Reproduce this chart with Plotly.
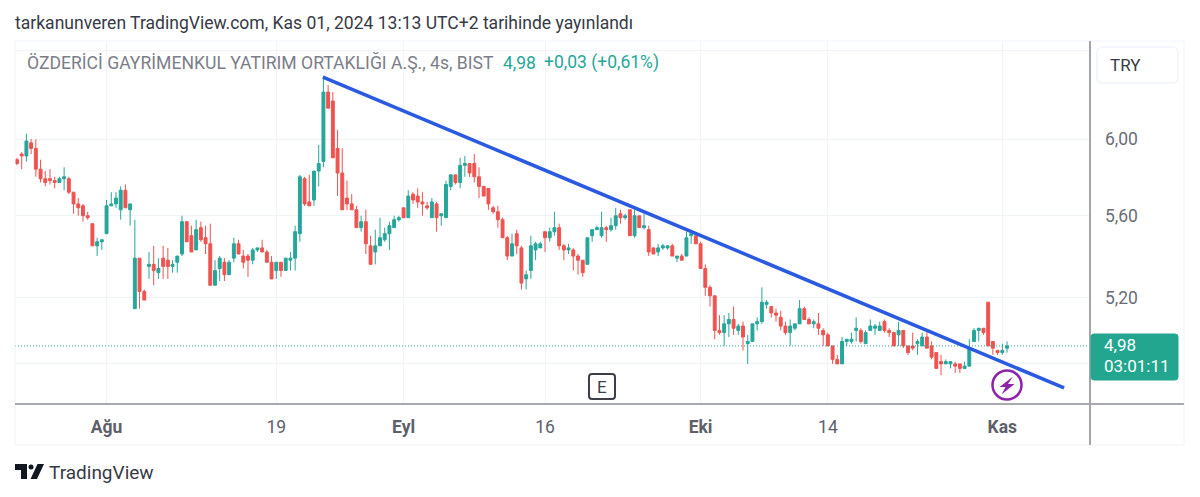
import math

import plotly.graph_objects as go


WIDTH = 1200
HEIGHT = 497
# plot area in page pixels
LEFT, RIGHT, TOP, BOTTOM = 15, 1090, 41, 404

UP_COLOR = "#26a69a"
DOWN_COLOR = "#ef5350"
GRID_COLOR = "#f0f3fa"
AXIS_COLOR = "#8a8c93"
TEXT_COLOR = "#6a6d78"

OPEN = [
    5.89, 5.92, 5.91, 5.98, 5.95, 5.84, 5.79, 5.79, 5.78, 5.77,
    5.79, 5.79, 5.72, 5.66, 5.65, 5.60, 5.56, 5.45, 5.47, 5.51,
    5.65, 5.66, 5.63, 5.73, 5.63, 5.15, 5.39, 5.23, 5.35, 5.36,
    5.32, 5.39, 5.38, 5.35, 5.37, 5.41, 5.57, 5.50, 5.43, 5.54,
    5.49, 5.46, 5.26, 5.34, 5.37, 5.31, 5.39, 5.46, 5.40, 5.40,
    5.38, 5.43, 5.44, 5.42, 5.37, 5.33, 5.37, 5.33, 5.38, 5.39,
    5.51, 5.79, 5.67, 5.68, 5.83, 5.88, 6.26, 6.21, 5.95, 5.82,
    5.69, 5.66, 5.63, 5.54, 5.57, 5.45, 5.42, 5.45, 5.48, 5.51,
    5.54, 5.58, 5.64, 5.59, 5.71, 5.70, 5.67, 5.65, 5.59, 5.66,
    5.60, 5.59, 5.75, 5.81, 5.77, 5.86, 5.87, 5.87, 5.80, 5.75,
    5.74, 5.64, 5.62, 5.58, 5.49, 5.40, 5.51, 5.44, 5.29, 5.33,
    5.43, 5.44, 5.52, 5.49, 5.52, 5.54, 5.45, 5.43, 5.43, 5.40,
    5.38, 5.36, 5.50, 5.53, 5.50, 5.54, 5.53, 5.55, 5.61, 5.59,
    5.63, 5.50, 5.60, 5.54, 5.53, 5.44, 5.42, 5.44, 5.44, 5.45,
    5.39, 5.40, 5.40, 5.50, 5.50, 5.46, 5.34, 5.25, 5.21, 5.05,
    5.04, 5.08, 5.10, 5.05, 5.07, 4.99, 5.00, 5.08, 5.09, 5.17,
    5.16, 5.13, 5.11, 5.07, 5.04, 5.06, 5.08, 5.15, 5.10, 5.08,
    5.08, 5.05, 5.03, 4.98, 4.92, 4.90, 5.00, 5.00, 5.05, 5.05,
    4.99, 5.05, 5.06, 5.05, 5.09, 5.05, 5.04, 5.03, 5.05, 4.98,
    4.98, 4.99, 4.98, 5.02, 4.98, 4.95, 4.91, 4.90, 4.90, 4.90,
    4.90, 4.88, 4.89, 5.00, 5.05, 5.06, 5.18, 5.00, 4.96, 4.95,
    4.97,
]
HIGH = [
    5.90, 5.93, 6.03, 6.00, 6.00, 5.89, 5.83, 5.84, 5.80, 5.80,
    5.85, 5.80, 5.72, 5.69, 5.66, 5.62, 5.56, 5.49, 5.48, 5.68,
    5.72, 5.72, 5.75, 5.76, 5.66, 5.58, 5.39, 5.24, 5.42, 5.45,
    5.39, 5.45, 5.44, 5.38, 5.40, 5.60, 5.57, 5.55, 5.58, 5.57,
    5.55, 5.56, 5.38, 5.40, 5.39, 5.38, 5.49, 5.48, 5.43, 5.41,
    5.44, 5.44, 5.48, 5.43, 5.40, 5.37, 5.37, 5.39, 5.42, 5.55,
    5.81, 5.80, 5.81, 5.83, 5.97, 6.35, 6.30, 6.26, 6.05, 5.95,
    5.78, 5.71, 5.65, 5.60, 5.63, 5.50, 5.53, 5.59, 5.54, 5.57,
    5.60, 5.60, 5.64, 5.73, 5.72, 5.74, 5.72, 5.67, 5.69, 5.67,
    5.61, 5.78, 5.81, 5.81, 5.90, 5.91, 5.87, 5.92, 5.85, 5.75,
    5.74, 5.65, 5.65, 5.59, 5.50, 5.51, 5.53, 5.45, 5.33, 5.50,
    5.47, 5.47, 5.52, 5.54, 5.62, 5.56, 5.46, 5.46, 5.44, 5.41,
    5.38, 5.49, 5.53, 5.55, 5.62, 5.55, 5.59, 5.64, 5.63, 5.61,
    5.63, 5.63, 5.60, 5.61, 5.55, 5.44, 5.46, 5.46, 5.45, 5.46,
    5.40, 5.41, 5.52, 5.51, 5.50, 5.47, 5.36, 5.26, 5.21, 5.12,
    5.12, 5.13, 5.16, 5.08, 5.09, 5.03, 5.08, 5.11, 5.25, 5.19,
    5.16, 5.15, 5.14, 5.09, 5.10, 5.08, 5.19, 5.16, 5.11, 5.10,
    5.13, 5.06, 5.04, 4.98, 4.94, 5.02, 5.01, 5.04, 5.11, 5.06,
    5.05, 5.10, 5.08, 5.09, 5.10, 5.06, 5.04, 5.09, 5.05, 4.98,
    5.04, 5.01, 5.04, 5.05, 5.00, 4.95, 4.94, 4.92, 4.91, 4.91,
    4.90, 4.91, 5.01, 5.06, 5.06, 5.06, 5.18, 5.00, 4.96, 4.99,
    5.00,
]
LOW = [
    5.86, 5.84, 5.88, 5.92, 5.80, 5.77, 5.75, 5.76, 5.74, 5.77,
    5.73, 5.71, 5.61, 5.60, 5.57, 5.58, 5.45, 5.40, 5.43, 5.51,
    5.65, 5.64, 5.58, 5.64, 5.55, 5.15, 5.15, 5.19, 5.29, 5.26,
    5.29, 5.29, 5.29, 5.32, 5.32, 5.40, 5.47, 5.42, 5.43, 5.47,
    5.41, 5.26, 5.26, 5.28, 5.28, 5.31, 5.37, 5.41, 5.34, 5.30,
    5.36, 5.42, 5.42, 5.37, 5.29, 5.29, 5.30, 5.33, 5.33, 5.33,
    5.47, 5.65, 5.65, 5.65, 5.75, 5.85, 6.17, 5.90, 5.70, 5.63,
    5.63, 5.63, 5.54, 5.52, 5.41, 5.36, 5.36, 5.45, 5.47, 5.43,
    5.54, 5.57, 5.59, 5.59, 5.66, 5.64, 5.60, 5.63, 5.59, 5.52,
    5.55, 5.59, 5.73, 5.76, 5.74, 5.80, 5.80, 5.77, 5.69, 5.70,
    5.63, 5.61, 5.54, 5.49, 5.38, 5.40, 5.41, 5.24, 5.24, 5.29,
    5.38, 5.44, 5.42, 5.47, 5.50, 5.43, 5.38, 5.41, 5.33, 5.31,
    5.30, 5.36, 5.47, 5.53, 5.49, 5.47, 5.52, 5.53, 5.56, 5.58,
    5.50, 5.49, 5.54, 5.53, 5.40, 5.41, 5.40, 5.43, 5.43, 5.40,
    5.37, 5.38, 5.40, 5.46, 5.46, 5.34, 5.21, 5.16, 5.01, 5.03,
    4.98, 5.02, 5.03, 5.03, 4.96, 4.90, 5.00, 5.05, 5.08, 5.15,
    5.11, 5.09, 5.05, 5.03, 4.98, 5.05, 5.08, 5.10, 5.08, 5.06,
    5.03, 4.98, 4.98, 4.90, 4.90, 4.90, 4.98, 4.99, 5.00, 4.99,
    4.99, 5.05, 5.03, 5.05, 5.04, 5.02, 4.98, 4.98, 4.97, 4.94,
    4.96, 4.94, 4.98, 4.97, 4.92, 4.88, 4.85, 4.90, 4.88, 4.86,
    4.86, 4.88, 4.89, 5.00, 5.00, 5.03, 4.98, 4.94, 4.94, 4.94,
    4.95,
]
CLOSE = [
    5.87, 5.91, 5.99, 5.95, 5.84, 5.79, 5.77, 5.78, 5.77, 5.79,
    5.80, 5.72, 5.66, 5.64, 5.60, 5.59, 5.45, 5.47, 5.48, 5.65,
    5.66, 5.69, 5.73, 5.64, 5.66, 5.39, 5.23, 5.19, 5.36, 5.33,
    5.34, 5.35, 5.35, 5.36, 5.40, 5.57, 5.47, 5.42, 5.53, 5.48,
    5.46, 5.26, 5.33, 5.39, 5.31, 5.37, 5.46, 5.41, 5.37, 5.38,
    5.43, 5.44, 5.42, 5.37, 5.29, 5.37, 5.33, 5.39, 5.39, 5.52,
    5.80, 5.66, 5.65, 5.83, 5.87, 6.26, 6.17, 5.90, 5.82, 5.63,
    5.66, 5.63, 5.54, 5.57, 5.46, 5.36, 5.45, 5.49, 5.51, 5.55,
    5.58, 5.59, 5.59, 5.70, 5.68, 5.67, 5.66, 5.64, 5.67, 5.59,
    5.61, 5.76, 5.81, 5.77, 5.86, 5.87, 5.82, 5.80, 5.75, 5.70,
    5.66, 5.62, 5.58, 5.49, 5.40, 5.46, 5.45, 5.27, 5.31, 5.45,
    5.46, 5.46, 5.49, 5.52, 5.54, 5.45, 5.43, 5.44, 5.40, 5.38,
    5.32, 5.49, 5.53, 5.54, 5.54, 5.53, 5.55, 5.60, 5.59, 5.60,
    5.50, 5.60, 5.54, 5.55, 5.42, 5.41, 5.44, 5.45, 5.45, 5.40,
    5.40, 5.38, 5.49, 5.51, 5.46, 5.34, 5.25, 5.21, 5.05, 5.04,
    5.08, 5.10, 5.06, 5.07, 5.02, 5.00, 5.08, 5.09, 5.18, 5.18,
    5.13, 5.12, 5.07, 5.04, 5.07, 5.08, 5.15, 5.10, 5.08, 5.09,
    5.06, 5.03, 4.98, 4.92, 4.90, 5.00, 5.01, 5.01, 5.06, 5.00,
    5.04, 5.07, 5.07, 5.07, 5.05, 5.04, 4.98, 5.05, 4.98, 4.95,
    4.97, 5.00, 5.02, 4.97, 4.93, 4.88, 4.90, 4.91, 4.91, 4.89,
    4.88, 4.89, 4.97, 5.05, 5.06, 5.04, 4.98, 4.97, 4.95, 4.96,
    4.98,
]

# candle number of each date label on the time axis
TIME_TICKS = [19, 55, 82, 112, 145, 172, 209]
TIME_LABELS = ["<b>Ağu</b>", "19", "<b>Eyl</b>", "16", "<b>Eki</b>", "14", "<b>Kas</b>"]
PRICE_TICKS = [6.5, 6.0, 5.6, 5.2, 4.9]
PRICE_LABELS = ["", "6,00", "5,60", "5,20", ""]

TREND_X = [64.9, 222.1]
TREND_Y = [6.345, 4.795]

X_RANGE = [-0.42, 227.6]
Y_RANGE = [4.726, 6.555]


def px(x):
    return (x - LEFT) / (RIGHT - LEFT)


def py(y):
    return (BOTTOM - y) / (BOTTOM - TOP)


def line_shape(x0, y0, x1, y1, color, width=1):
    return dict(
        type="line", xref="paper", yref="paper",
        x0=px(x0), y0=py(y0), x1=px(x1), y1=py(y1),
        line=dict(color=color, width=width),
    )


def rounded_box(x0, y0, x1, y1, r, line_color, fill="rgba(0,0,0,0)", width=1):
    path = (
        f"M {px(x0 + r)} {py(y0)} L {px(x1 - r)} {py(y0)} Q {px(x1)} {py(y0)} {px(x1)} {py(y0 + r)} "
        f"L {px(x1)} {py(y1 - r)} Q {px(x1)} {py(y1)} {px(x1 - r)} {py(y1)} "
        f"L {px(x0 + r)} {py(y1)} Q {px(x0)} {py(y1)} {px(x0)} {py(y1 - r)} "
        f"L {px(x0)} {py(y0 + r)} Q {px(x0)} {py(y0)} {px(x0 + r)} {py(y0)} Z"
    )
    return dict(
        type="path", xref="paper", yref="paper", path=path,
        line=dict(color=line_color, width=width), fillcolor=fill,
    )


def polygon(points, color):
    path = "M " + " L ".join(f"{px(x)} {py(y)}" for x, y in points) + " Z"
    return dict(
        type="path", xref="paper", yref="paper", path=path,
        line=dict(width=0), fillcolor=color,
    )


def label(x, y, text, size, color, anchor="left"):
    return dict(
        x=px(x), y=py(y), xref="paper", yref="paper",
        xanchor=anchor, yanchor="middle", text=text, showarrow=False,
        font=dict(size=size, color=color), borderpad=0, borderwidth=0,
    )


x_values = list(range(len(CLOSE)))

fig = go.Figure()
fig.add_trace(
    go.Candlestick(
        x=x_values,
        open=OPEN,
        high=HIGH,
        low=LOW,
        close=CLOSE,
        increasing=dict(line=dict(color=UP_COLOR, width=1), fillcolor=UP_COLOR),
        decreasing=dict(line=dict(color=DOWN_COLOR, width=1), fillcolor=DOWN_COLOR),
        hoverinfo="skip",
    )
)
fig.add_trace(
    go.Scatter(
        x=X_RANGE,
        y=[CLOSE[-1], CLOSE[-1]],
        mode="lines",
        line=dict(color=UP_COLOR, width=1, dash="1px,2px"),
        hoverinfo="skip",
    )
)
fig.add_trace(
    go.Scatter(
        x=TREND_X,
        y=TREND_Y,
        mode="lines",
        line=dict(color="#2a5ae0", width=3.5),
        hoverinfo="skip",
    )
)

shapes = [
    # chart frame
    line_shape(LEFT, TOP, 1184, TOP, GRID_COLOR),
    line_shape(LEFT, TOP, LEFT, 445, GRID_COLOR),
    line_shape(LEFT, 445, 1184, 445, GRID_COLOR),
    line_shape(1184, TOP, 1184, 445, GRID_COLOR),
    line_shape(LEFT, BOTTOM, 1184, BOTTOM, AXIS_COLOR, 1.5),
    line_shape(RIGHT, TOP, RIGHT, 445, "#a3a5ab", 2),
    # currency button and last price tag
    rounded_box(1097, 47, 1178, 83, 6, GRID_COLOR, "white", 1.5),
    rounded_box(1091, 334, 1178, 380, 3, "#22a68f", "#22a68f", 1),
    # earnings badge
    rounded_box(589, 374, 615, 399, 3, "#3c3f47", "white", 2),
    # flash icon
    dict(
        type="circle", xref="paper", yref="paper",
        x0=px(992.5), y0=py(370.5), x1=px(1021.5), y1=py(399.5),
        line=dict(color="#8e24aa", width=2.5), fillcolor="white",
    ),
    polygon(
        [(1013, 376.5), (999.5, 387), (1005.5, 387), (1001.5, 394.5), (1014.5, 384), (1008, 384)],
        "#8e24aa",
    ),
    # logo
    polygon([(15, 464), (27, 464), (27, 479), (21, 479), (21, 470), (15, 470)], "#131722"),
    dict(
        type="circle", xref="paper", yref="paper",
        x0=px(28.5), y0=py(464.5), x1=px(33.5), y1=py(469.5),
        line=dict(width=0), fillcolor="#131722",
    ),
    polygon([(37.5, 464), (44, 464), (37, 479), (30.5, 479)], "#131722"),
]

annotations = [
    label(15, 23, "tarkanunveren TradingView.com, Kas 01, 2024 13:13 UTC+2 tarihinde yayınlandı", 17.55, "#363a45"),
    label(27, 63, "ÖZDERİCİ GAYRİMENKUL YATIRIM ORTAKLIĞI A.Ş., 4s, BIST", 17.6, "#7b7e87"),
    label(503, 63, "4,98", 17.5, UP_COLOR),
    label(544, 63, "+0,03 (+0,61%)", 17.5, UP_COLOR),
    label(1110, 65, "TRY", 17, "#363a45"),
    label(1104, 345, "4,98", 17, "white"),
    label(1104, 366, "03:01:11", 17, "white"),
    label(602, 386.5, "E", 17, "#3c3f47", "center"),
    label(49, 472, "TradingView", 19, "#363a45"),
]

fig.update_layout(
    width=WIDTH,
    height=HEIGHT,
    margin=dict(l=LEFT, r=WIDTH - RIGHT, t=TOP, b=HEIGHT - BOTTOM, pad=0),
    paper_bgcolor="white",
    plot_bgcolor="white",
    showlegend=False,
    boxgap=0.12,
    font=dict(family="Roboto", size=17, color=TEXT_COLOR),
    xaxis=dict(
        type="linear",
        range=X_RANGE,
        tickvals=TIME_TICKS,
        ticktext=TIME_LABELS,
        tickfont=dict(size=17.5, color="#5d606b"),
        ticklen=0,
        ticklabelstandoff=10,
        showgrid=True,
        gridcolor=GRID_COLOR,
        zeroline=False,
        rangeslider=dict(visible=False),
    ),
    yaxis=dict(
        type="log",
        side="right",
        range=[math.log10(Y_RANGE[0]), math.log10(Y_RANGE[1])],
        tickvals=PRICE_TICKS,
        ticktext=PRICE_LABELS,
        tickfont=dict(size=17.5, color=TEXT_COLOR),
        ticklen=0,
        ticklabelstandoff=14,
        showgrid=True,
        gridcolor=GRID_COLOR,
        zeroline=False,
    ),
    shapes=shapes,
    annotations=annotations,
)

fig.write_html(
    "out.html",
    config=dict(displayModeBar=False),
    post_script="document.body.style.margin='0';",
)
